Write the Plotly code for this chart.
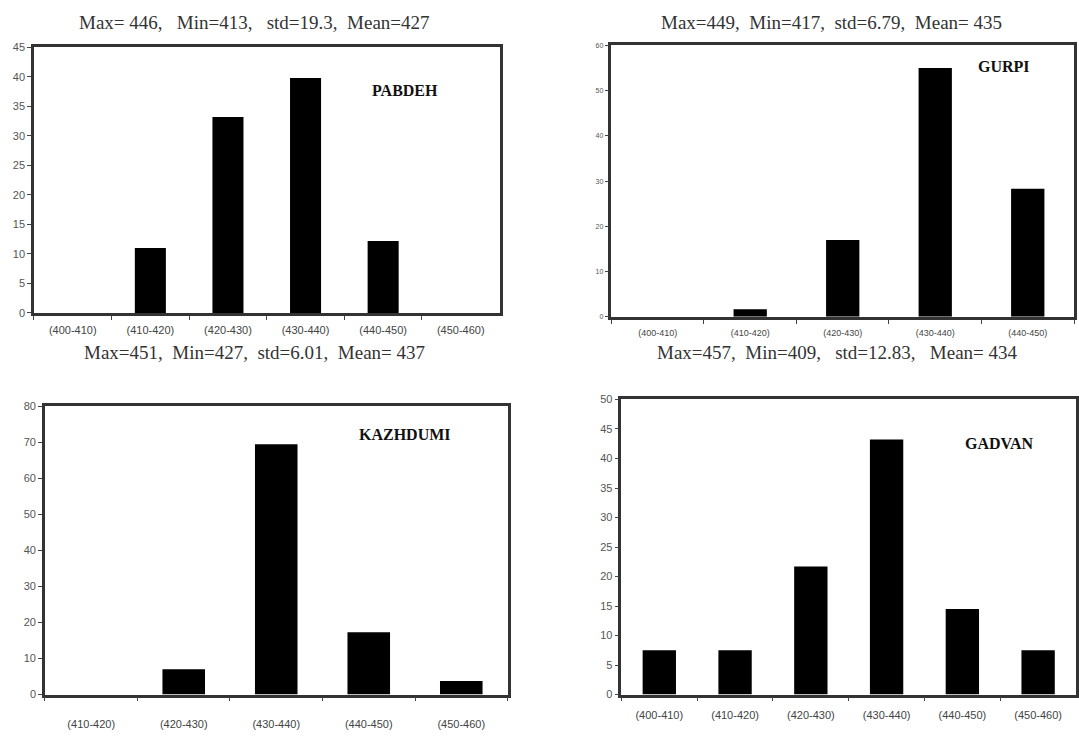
import plotly.graph_objects as go

W, H = 1079, 736

# ---- data ----
pab_cats = ["(400-410)", "(410-420)", "(420-430)", "(430-440)", "(440-450)", "(450-460)"]
pab_vals = [0, 11, 33.2, 39.8, 12.2, 0]

gur_cats = ["(400-410)", "(410-420)", "(420-430)", "(430-440)", "(440-450)"]
gur_vals = [0, 1.7, 17, 55, 28.3]

kaz_cats = ["(410-420)", "(420-430)", "(430-440)", "(440-450)", "(450-460)"]
kaz_vals = [0, 7, 69.5, 17.3, 3.8]

gad_cats = ["(400-410)", "(410-420)", "(420-430)", "(430-440)", "(440-450)", "(450-460)"]
gad_vals = [7.5, 7.5, 21.7, 43.2, 14.5, 7.5]

titles = [
    "Max= 446,   Min=413,   std=19.3,  Mean=427",
    "Max=449,  Min=417,  std=6.79,  Mean= 435",
    "Max=451,  Min=427,  std=6.01,  Mean= 437",
    "Max=457,  Min=409,   std=12.83,   Mean= 434",
]
names = ["PABDEH", "GURPI", "KAZHDUMI", "GADVAN"]

# ---- layout (pixel boxes) ----
panels = [
    dict(cats=pab_cats, vals=pab_vals, box=(34, 500, 42, 312), yr=45, dt=5, bw=0.40, fs=11, xfs=11, so=5,
         title_xy=(255, 17), name_xy=(405, 86)),
    dict(cats=gur_cats, vals=gur_vals, box=(612, 1075, 40, 316), yr=60, dt=10, bw=0.36, fs=7, xfs=9, so=6,
         title_xy=(832, 17), name_xy=(1005, 62)),
    dict(cats=kaz_cats, vals=kaz_vals, box=(45, 508, 407, 700), yr=80, dt=10, bw=0.46, fs=11, xfs=11, so=17,
         title_xy=(255, 352), name_xy=(405, 436)),
    dict(cats=gad_cats, vals=gad_vals, box=(622, 1077, 400, 700), yr=50, dt=5, bw=0.44, fs=11, xfs=11, so=8,
         title_xy=(838, 352), name_xy=(1000, 445)),
]

fig = go.Figure()
annotations = []
for i, p in enumerate(panels):
    k = "" if i == 0 else str(i + 1)
    x0, x1, y0, y1 = p["box"]
    fig.add_trace(go.Bar(x=p["cats"], y=p["vals"], width=p["bw"], marker=dict(color="black", line=dict(width=0)),
                         xaxis="x" + k, yaxis="y" + k, showlegend=False))
    axis_common = dict(showline=True, linecolor="#333333", linewidth=2.5, mirror=True, showgrid=False,
                       zeroline=False, ticks="outside", ticklen=4, tickcolor="#444444", tickwidth=1)
    fig.update_layout(**{
        "xaxis" + k: dict(domain=[x0 / W, x1 / W], anchor="y" + k, type="category",
                          tickson="boundaries", ticklabelstandoff=p["so"],
                          tickfont=dict(family="Arial", size=p["xfs"], color="#444444"),
                          **axis_common),
        "yaxis" + k: dict(domain=[1 - y1 / H, 1 - y0 / H], anchor="x" + k, range=[0, p["yr"]], dtick=p["dt"],
                          tickfont=dict(family="Arial", size=p["fs"], color="#555555"), **axis_common),
    })
    tx, ty = p["title_xy"]
    annotations.append(dict(x=tx / W, y=1 - ty / H, xref="paper", yref="paper", text=titles[i], showarrow=False,
                            font=dict(family="Liberation Serif", size=19, color="#333333"),
                            xanchor="center", yanchor="middle"))
    nx, ny = p["name_xy"]
    annotations.append(dict(x=nx / W, y=1 - ny / H, xref="paper", yref="paper", text="<b>" + names[i] + "</b>",
                            showarrow=False, font=dict(family="Liberation Serif", size=16, color="#111111"),
                            xanchor="center", yanchor="middle"))

fig.update_layout(width=W, height=H, margin=dict(l=0, r=0, t=0, b=0), paper_bgcolor="white",
                  plot_bgcolor="white", annotations=annotations, bargap=0.5)
fig.write_html("out.html")
